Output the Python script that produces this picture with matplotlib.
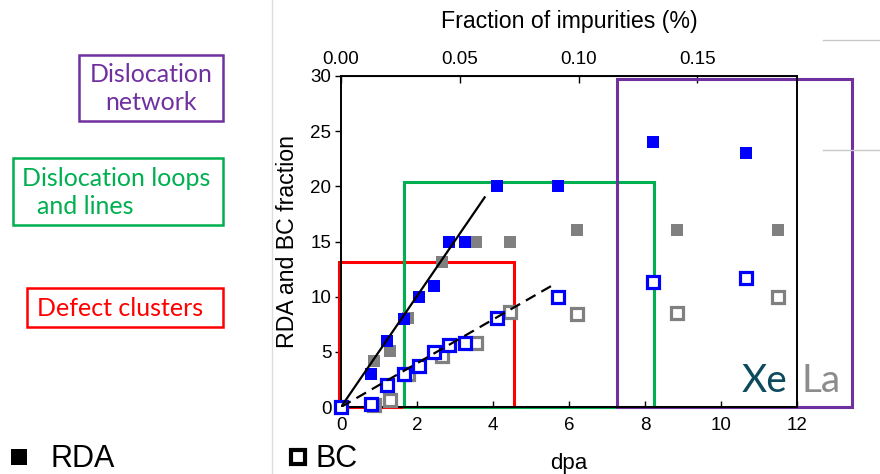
import matplotlib
matplotlib.use('Agg')
import matplotlib.pyplot as plt
from matplotlib.patches import Rectangle
from matplotlib.lines import Line2D

"""data read off the picture"""
# RDA (filled squares), Xe in blue, La in gray
rda_xe_dpa = [0, 0.8, 1.2, 1.65, 2.05, 2.45, 2.85, 3.25, 4.1, 5.7, 8.2, 10.65]
rda_xe = [0, 3, 6, 8, 10, 11, 15, 15, 20, 20, 24, 23]
rda_la_dpa = [0, 0.87, 1.3, 1.75, 2.65, 3.55, 4.45, 6.2, 8.85, 11.5]
rda_la = [0, 4.2, 5.1, 8.1, 13.1, 15, 15, 16, 16, 16]

# BC (open squares)
bc_xe_dpa = [0, 0.8, 1.2, 1.65, 2.05, 2.45, 2.85, 3.25, 4.1, 5.7, 8.2, 10.65]
bc_xe = [0, 0.3, 2.0, 3.0, 3.7, 5.0, 5.6, 5.8, 8.1, 10.0, 11.3, 11.7]
bc_la_dpa = [0.87, 1.3, 1.75, 2.65, 3.55, 4.45, 6.2, 8.85, 11.5]
bc_la = [0.2, 0.6, 3.0, 4.6, 5.8, 8.6, 8.4, 8.5, 10.0]

# trend lines (end points)
fit_rda_x = [0, 3.78]
fit_rda_y = [0, 19.0]
fit_bc_x = [0, 5.6]
fit_bc_y = [0, 11.1]

# regime boxes in dpa / fraction units: (x0, y0, x1, y1)
box_defects = (-0.05, 0, 4.54, 13.1)
box_loops = (1.67, 0, 8.24, 20.4)
box_network = (7.25, 0, 13.44, 29.75)

impurity_per_dpa = 0.016
top_ticks = [0.0, 0.05, 0.10, 0.15]

BLUE = '#0000ff'
GRAY = '#808080'
RED = '#ff0000'
GREEN = '#00b050'
PURPLE = '#7030a0'

plt.rcParams['font.family'] = ['Liberation Sans', 'DejaVu Sans']

W, H = 880, 474


def fx(px):
    return px / W


def fy(py):
    return 1 - py / H


fig = plt.figure(figsize=(W / 100, H / 100), dpi=100)
ax = fig.add_axes([fx(341), fy(407), (797 - 341) / W, (407 - 76) / H])

"""regime boxes"""
for (x0, y0, x1, y1), col in [(box_defects, RED), (box_loops, GREEN),
                              (box_network, PURPLE)]:
    ax.add_patch(Rectangle((x0, y0), x1 - x0, y1 - y0, fill=False,
                           edgecolor=col, linewidth=2.2, clip_on=False,
                           zorder=2))

"""markers"""
ax.plot(rda_la_dpa, rda_la, 's', color=GRAY, markersize=8.8,
        markeredgewidth=0, clip_on=False, zorder=3)
ax.plot(bc_la_dpa, bc_la, 's', markerfacecolor='white', markeredgecolor=GRAY,
        markersize=8.5, markeredgewidth=2.3, clip_on=False, zorder=3)
ax.plot(rda_xe_dpa, rda_xe, 's', color=BLUE, markersize=8.8,
        markeredgewidth=0, clip_on=False, zorder=4)
ax.plot(bc_xe_dpa, bc_xe, 's', markerfacecolor='white', markeredgecolor=BLUE,
        markersize=8.5, markeredgewidth=2.3, clip_on=False, zorder=4)

"""trend lines"""
ax.plot(fit_rda_x, fit_rda_y, '-', color='black', linewidth=1.6, zorder=5)
ax.plot(fit_bc_x, fit_bc_y, color='black', linewidth=1.6,
        dashes=(5, 3), zorder=5)

ax.set_xlim(0, 12)
ax.set_ylim(0, 30)
ax.set_xticks(range(0, 13, 2))
ax.set_yticks(range(0, 31, 5))
ax.tick_params(axis='x', direction='in', length=4, width=1, pad=7,
               labelsize=13.5)
ax.tick_params(axis='y', direction='out', length=4, width=1, pad=3,
               labelsize=13.5)
for s in ax.spines.values():
    s.set_linewidth(1.4)
ax.set_xlabel('dpa', fontsize=16, labelpad=14)
ax.set_ylabel('RDA and BC fraction', fontsize=16.7, labelpad=8)

"""top axis: fraction of impurities"""
top = ax.secondary_xaxis('top', functions=(lambda d: d * impurity_per_dpa,
                                           lambda f: f / impurity_per_dpa))
top.set_xticks(top_ticks)
top.set_xticklabels(['%.2f' % t for t in top_ticks])
top.tick_params(direction='in', length=5, width=1, pad=6, labelsize=13.5)
top.set_xlabel('Fraction of impurities (%)', fontsize=16.7, labelpad=16)

"""Xe / La tag"""
fig.text(fx(787), fy(392), 'Xe', color='#0d4a5e', fontsize=28,
         family=['Lato', 'DejaVu Sans'], ha='right', va='baseline')
fig.text(fx(801), fy(392), 'La', color='#8c8c8c', fontsize=28,
         family=['Lato', 'DejaVu Sans'], ha='left', va='baseline')

"""left side labels"""
side = [((79, 55, 223, 121), PURPLE), ((13, 158, 223, 225), GREEN),
        ((27, 288, 223, 327), RED)]
for (x0, y0, x1, y1), col in side:
    fig.add_artist(Rectangle((fx(x0), fy(y1)), (x1 - x0) / W, (y1 - y0) / H,
                             fill=False, edgecolor=col, linewidth=1.8,
                             transform=fig.transFigure))
lab = dict(fontsize=18, family=['Lato', 'DejaVu Sans'], va='center')
fig.text(fx(151), fy(75), 'Dislocation', color=PURPLE, ha='center', **lab)
fig.text(fx(151), fy(102), 'network', color=PURPLE, ha='center', **lab)
fig.text(fx(22), fy(178), 'Dislocation loops', color=GREEN, ha='left', **lab)
fig.text(fx(37), fy(206), 'and lines', color=GREEN, ha='left', **lab)
fig.text(fx(120), fy(308), 'Defect clusters', color=RED, ha='center', **lab)

"""bottom legend"""
fig.add_artist(Line2D([fx(19)], [fy(457)], marker='s', markersize=11,
                      color='black', markeredgewidth=0,
                      transform=fig.transFigure))
fig.add_artist(Line2D([fx(298)], [fy(457)], marker='s', markersize=10,
                      markerfacecolor='white', markeredgecolor='black',
                      markeredgewidth=3, transform=fig.transFigure))
leg = dict(fontsize=22, va='center', ha='left')
fig.text(fx(50), fy(459), 'RDA', **leg)
fig.text(fx(316), fy(459), 'BC', **leg)

"""slide separator lines"""
fig.add_artist(Line2D([fx(272), fx(272)], [0, 1], color='#dcdcdc',
                      linewidth=1, transform=fig.transFigure))
for yy in (40, 150):
    fig.add_artist(Line2D([fx(823), 1], [fy(yy), fy(yy)], color='#c8c8c8',
                          linewidth=1, transform=fig.transFigure))

fig.savefig('out.png', dpi=100)
